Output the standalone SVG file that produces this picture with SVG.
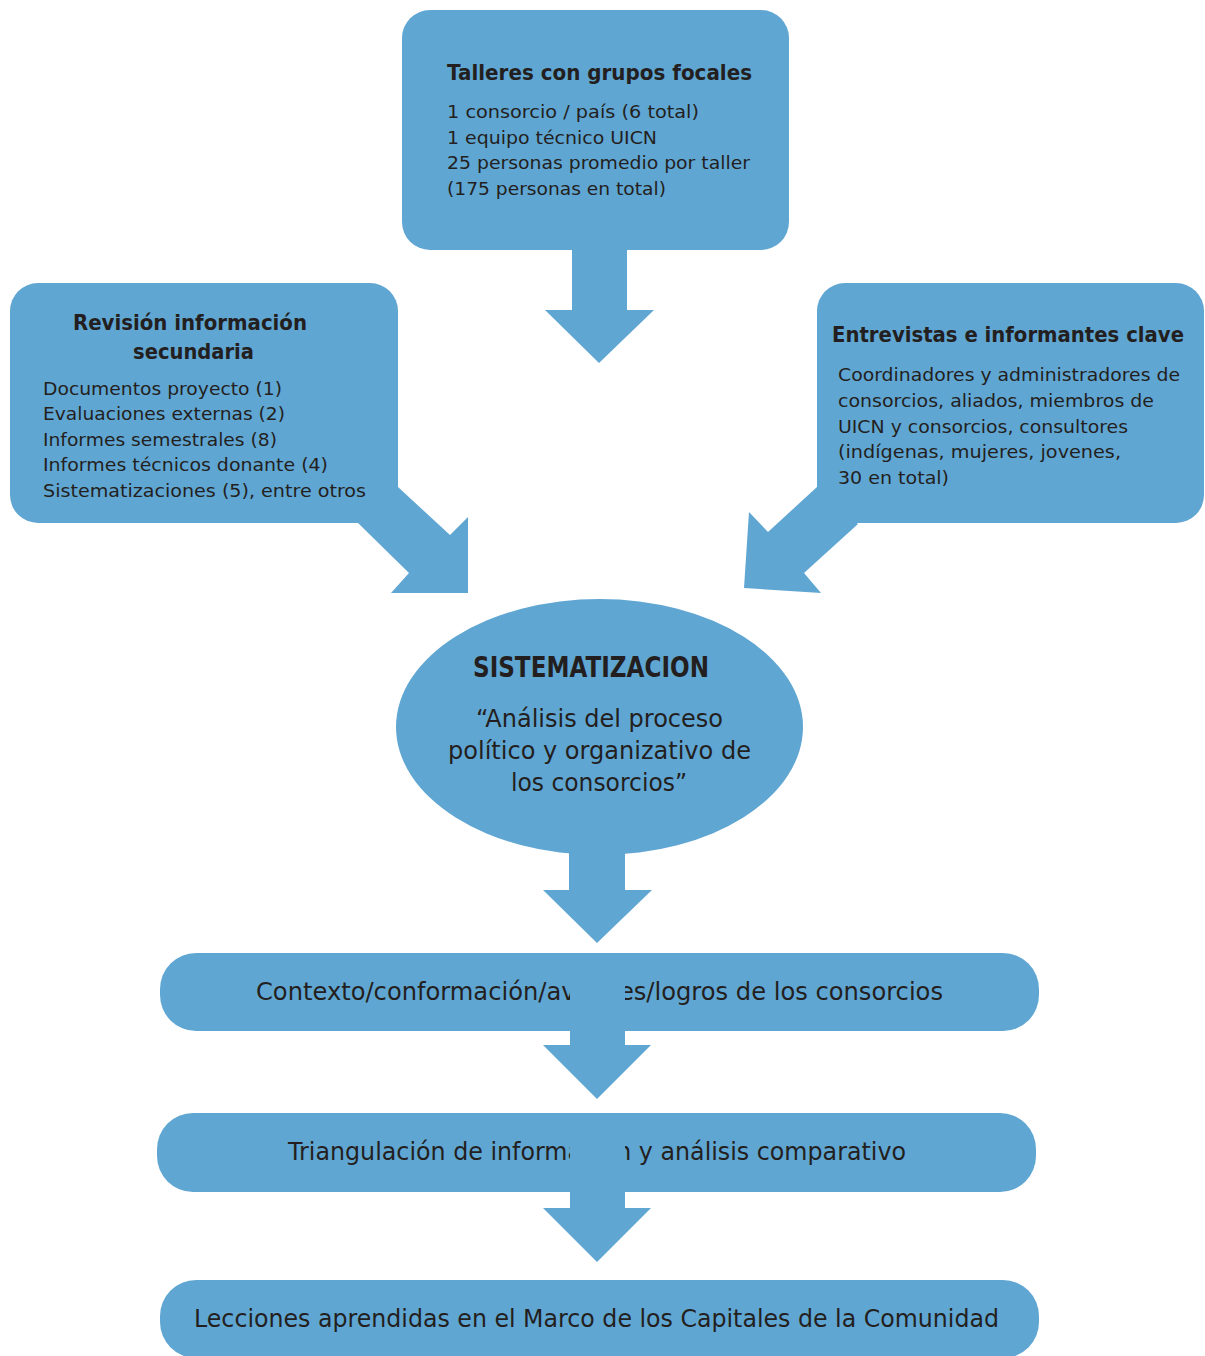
<svg xmlns="http://www.w3.org/2000/svg" width="1205" height="1356" viewBox="0 0 1205 1356">
<style>
.s{fill:#60A6D3}
text{font-family:"DejaVu Sans","Liberation Sans",sans-serif;fill:#231F20}
.b{font-weight:bold}
.t17{font-size:18px}
.t20{font-size:21px}
.t23{font-size:24px}
.t25{font-size:25px}
</style>
<rect width="1205" height="1356" fill="#ffffff"/>
<g id="talleres">
<rect class="s" x="402" y="10" width="387" height="240" rx="28"/>
<text class="b t20" x="447" y="80" textLength="305" lengthAdjust="spacingAndGlyphs">Talleres con grupos focales</text>
<text class="t17" x="447" y="118" textLength="252" lengthAdjust="spacingAndGlyphs">1 consorcio / país (6 total)</text>
<text class="t17" x="447" y="143.5" textLength="210" lengthAdjust="spacingAndGlyphs">1 equipo técnico UICN</text>
<text class="t17" x="447" y="169" textLength="303" lengthAdjust="spacingAndGlyphs">25 personas promedio por taller</text>
<text class="t17" x="447" y="194.5" textLength="219" lengthAdjust="spacingAndGlyphs">(175 personas en total)</text>
</g>
<g id="revision">
<rect class="s" x="10" y="283" width="388" height="240" rx="28"/>
<text class="b t20" x="73" y="330" textLength="234" lengthAdjust="spacingAndGlyphs">Revisión información</text>
<text class="b t20" x="133" y="359" textLength="121" lengthAdjust="spacingAndGlyphs">secundaria</text>
<text class="t17" x="43" y="395" textLength="239" lengthAdjust="spacingAndGlyphs">Documentos proyecto (1)</text>
<text class="t17" x="43" y="420" textLength="242" lengthAdjust="spacingAndGlyphs">Evaluaciones externas (2)</text>
<text class="t17" x="43" y="446" textLength="234" lengthAdjust="spacingAndGlyphs">Informes semestrales (8)</text>
<text class="t17" x="43" y="471" textLength="285" lengthAdjust="spacingAndGlyphs">Informes técnicos donante (4)</text>
<text class="t17" x="43" y="497" textLength="323" lengthAdjust="spacingAndGlyphs">Sistematizaciones (5), entre otros</text>
</g>
<g id="entrevistas">
<rect class="s" x="817" y="283" width="387" height="240" rx="28"/>
<text class="b t20" x="832" y="342" textLength="352" lengthAdjust="spacingAndGlyphs">Entrevistas e informantes clave</text>
<text class="t17" x="838" y="381" textLength="342" lengthAdjust="spacingAndGlyphs">Coordinadores y administradores de</text>
<text class="t17" x="838" y="407" textLength="316" lengthAdjust="spacingAndGlyphs">consorcios, aliados, miembros de</text>
<text class="t17" x="838" y="433" textLength="290" lengthAdjust="spacingAndGlyphs">UICN y consorcios, consultores</text>
<text class="t17" x="838" y="458" textLength="283" lengthAdjust="spacingAndGlyphs">(indígenas, mujeres, jovenes,</text>
<text class="t17" x="838" y="484" textLength="111" lengthAdjust="spacingAndGlyphs">30 en total)</text>
</g>
<g id="sistematizacion">
<ellipse class="s" cx="599.5" cy="727" rx="203.5" ry="128"/>
<text class="b" x="473" y="677" font-size="28" textLength="236" lengthAdjust="spacingAndGlyphs">SISTEMATIZACION</text>
<text class="t23" x="476" y="727" textLength="247" lengthAdjust="spacingAndGlyphs">“Análisis del proceso</text>
<text class="t23" x="448" y="759" textLength="303" lengthAdjust="spacingAndGlyphs">político y organizativo de</text>
<text class="t23" x="511" y="791" textLength="176" lengthAdjust="spacingAndGlyphs">los consorcios”</text>
</g>
<g id="contexto">
<rect class="s" x="160" y="953" width="879" height="78" rx="36"/>
<text class="t25" x="256" y="1000" textLength="687" lengthAdjust="spacingAndGlyphs">Contexto/conformación/avances/logros de los consorcios</text>
</g>
<g id="triangulacion">
<rect class="s" x="157" y="1113" width="879" height="79" rx="36"/>
<text class="t25" x="288" y="1160" textLength="618" lengthAdjust="spacingAndGlyphs">Triangulación de información y análisis comparativo</text>
</g>
<g id="lecciones">
<rect class="s" x="160" y="1280" width="879" height="78" rx="36"/>
<text class="t25" x="194" y="1327" textLength="805" lengthAdjust="spacingAndGlyphs">Lecciones aprendidas en el Marco de los Capitales de la Comunidad</text>
</g>
<g id="connectors">
<polygon class="s" points="572,245 627,245 627,310 654,310 599,363 545,310 572,310"/>
<polygon class="s" points="398,487 450,535 468,517 468,593 391,593 409,573 358,523"/>
<polygon class="s" points="817,487 768,532 749,512 744,588 821,593 804,573 858,524"/>
<polygon class="s" points="569,820 625,820 625,890 652,890 597,943 543,890 569,890"/>
<polygon class="s" points="570,960 625,960 625,1045 651,1045 597,1099 543,1045 570,1045"/>
<polygon class="s" points="570,1120 625,1120 625,1208 651,1208 597,1262 543,1208 570,1208"/>
</g>
</svg>
